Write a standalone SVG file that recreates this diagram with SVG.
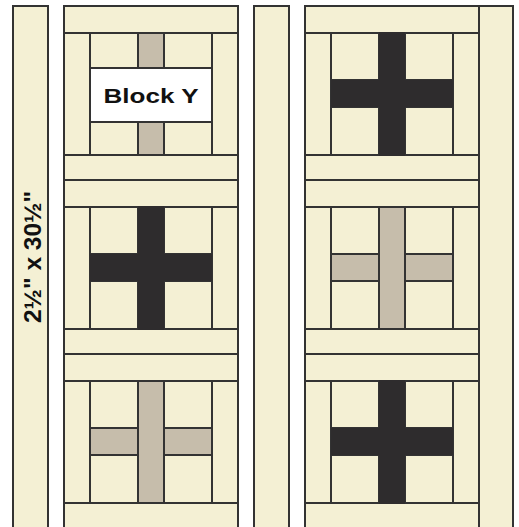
<svg xmlns="http://www.w3.org/2000/svg" width="519" height="527" viewBox="0 0 519 527">
<style>
.c{fill:#f4f0d4;stroke:#333;stroke-width:2}
.t{fill:#c6bdab;stroke:#333;stroke-width:2}
.d{fill:#2e2c2d;stroke:#2e2c2d;stroke-width:2}
.l{stroke:#333;stroke-width:2;fill:none}
.w{fill:#fff;stroke:#333;stroke-width:2}
.lab{font-family:"Liberation Sans",Arial,sans-serif;font-weight:bold;fill:#111}
</style>
<defs>
<g id="frame">
<rect class="c" x="0" y="0" width="174" height="175"/>
<line class="l" x1="0" y1="27" x2="174" y2="27"/>
<line class="l" x1="0" y1="149" x2="174" y2="149"/>
<line class="l" x1="26" y1="27" x2="26" y2="149"/>
<line class="l" x1="148" y1="27" x2="148" y2="149"/>
<rect class="c" x="26" y="27" width="48" height="47"/>
<rect class="c" x="100" y="27" width="48" height="47"/>
<rect class="c" x="26" y="101" width="48" height="48"/>
<rect class="c" x="100" y="101" width="48" height="48"/>
</g>
<g id="light">
<use href="#frame"/>
<rect class="t" x="74" y="27" width="26" height="122"/>
<rect class="t" x="26" y="74" width="48" height="27"/>
<rect class="t" x="100" y="74" width="48" height="27"/>
</g>
<g id="dark">
<use href="#frame"/>
<rect class="d" x="75" y="27" width="24" height="122"/>
<rect class="d" x="27" y="75" width="120" height="25"/>
</g>
</defs>
<rect x="0" y="0" width="519" height="527" fill="#fff"/>
<g id="strip-left">
<rect class="c" x="13" y="6" width="35" height="530"/>
<text class="lab" font-size="24" text-anchor="middle" transform="translate(41,257) rotate(-90)" textLength="132" lengthAdjust="spacingAndGlyphs">2½" x 30½"</text>
</g>
<g id="strip-middle"><rect class="c" x="254" y="6" width="35" height="530"/></g>
<g id="strip-right"><rect class="c" x="479" y="6" width="34" height="530"/></g>
<g id="block-1-1">
<use href="#light" transform="translate(64,6)"/>
<rect class="w" x="90" y="68" width="122" height="54"/>
<text class="lab" font-size="21" x="151" y="103" text-anchor="middle" textLength="95" lengthAdjust="spacingAndGlyphs">Block Y</text>
</g>
<g id="block-1-2"><use href="#dark" transform="translate(64,180)"/></g>
<g id="block-1-3"><use href="#light" transform="translate(64,354)"/></g>
<g id="block-2-1"><use href="#dark" transform="translate(305,6)"/></g>
<g id="block-2-2"><use href="#light" transform="translate(305,180)"/></g>
<g id="block-2-3"><use href="#dark" transform="translate(305,354)"/></g>
<g id="connectors"></g>
</svg>
